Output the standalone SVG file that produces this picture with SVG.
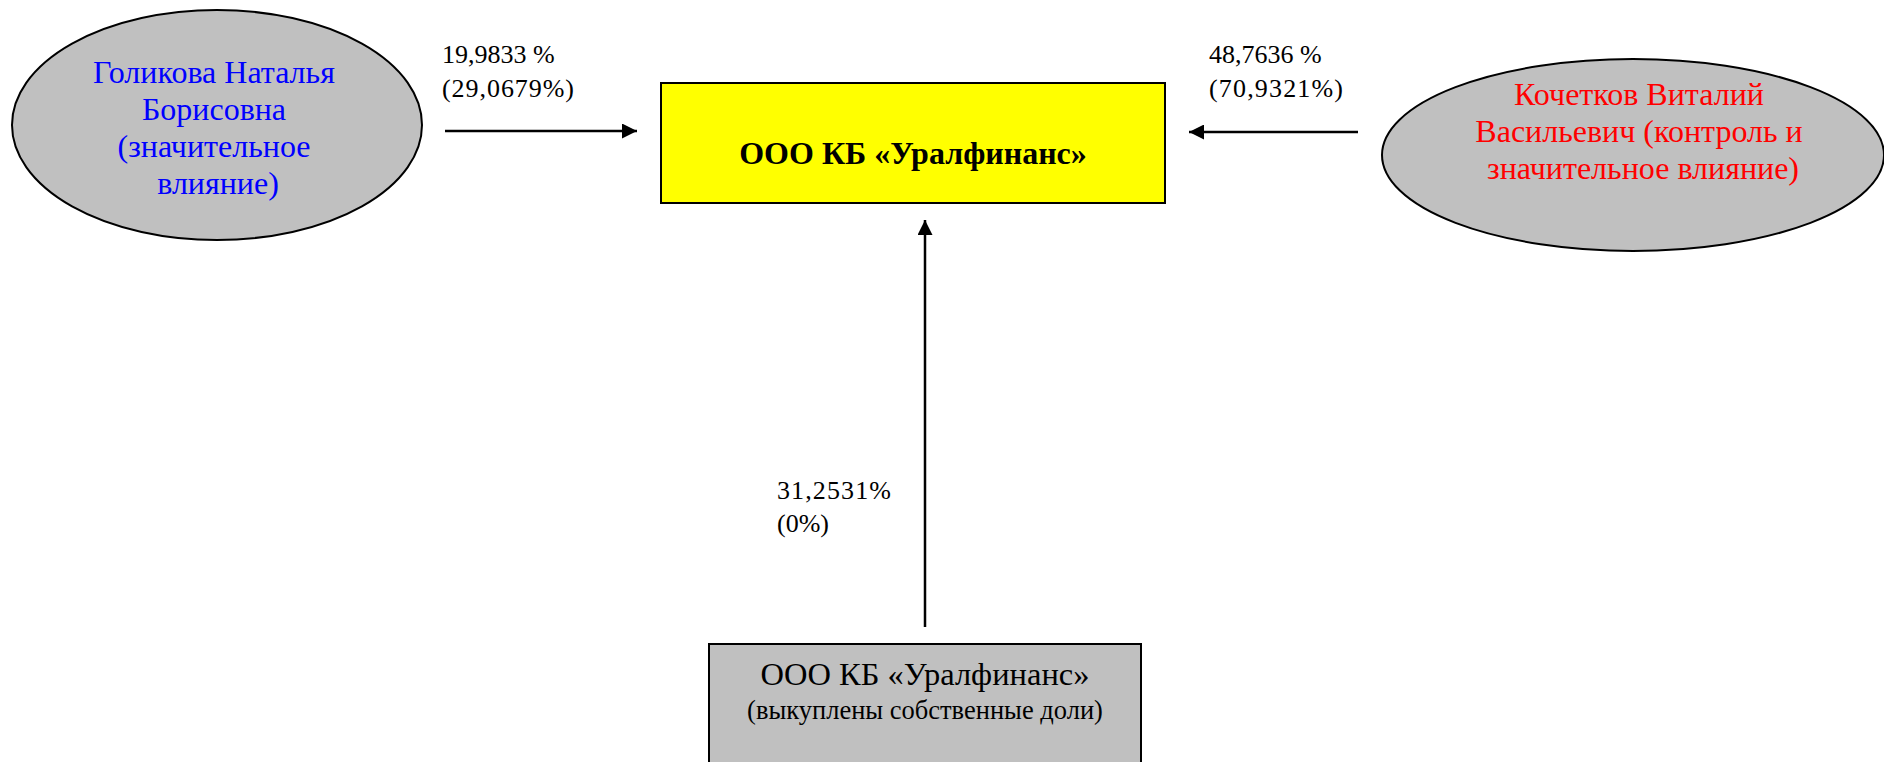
<svg xmlns="http://www.w3.org/2000/svg" width="1884" height="762" viewBox="0 0 1884 762">
<style>
.t{font-family:"Liberation Serif","Times New Roman",serif;}
.lbl{font-family:"Liberation Serif","Times New Roman",serif;font-size:26px;fill:#000;}
.shape{stroke:#000;stroke-width:2;}
.conn{stroke:#000;stroke-width:2.5;fill:none;}
</style>
<defs>
<marker id="ah" viewBox="0 0 10 10" refX="10" refY="5" markerWidth="6.5" markerHeight="6" markerUnits="strokeWidth" orient="auto">
<path d="M0,0 L10,5 L0,10 z" fill="#000"/>
</marker>
</defs>
<rect width="1884" height="762" fill="#fff"/>
<g id="connectors">
<line class="conn" x1="445" y1="131" x2="637" y2="131" marker-end="url(#ah)"/>
<line class="conn" x1="1358" y1="132" x2="1189" y2="132" marker-end="url(#ah)"/>
<line class="conn" x1="925" y1="627" x2="925" y2="220" marker-end="url(#ah)"/>
<text class="lbl" x="442" y="63">19,9833 %</text>
<text class="lbl" x="442" y="97" textLength="132" lengthAdjust="spacing">(29,0679%)</text>
<text class="lbl" x="1209" y="63">48,7636 %</text>
<text class="lbl" x="1209" y="97" textLength="134" lengthAdjust="spacing">(70,9321%)</text>
<text class="lbl" x="777" y="499" textLength="114" lengthAdjust="spacing">31,2531%</text>
<text class="lbl" x="777" y="532">(0%)</text>
</g>
<g id="golikova">
<ellipse class="shape" cx="217" cy="125" rx="205" ry="115" fill="#c0c0c0"/>
<text class="t" font-size="32" fill="#0000ff" text-anchor="middle">
<tspan x="218" y="83">Голикова Наталья</tspan>
<tspan x="218" y="120">Борисовна</tspan>
<tspan x="218" y="157">(значительное</tspan>
<tspan x="218" y="194">влияние)</tspan>
</text>
</g>
<g id="uralfinans">
<rect class="shape" x="661" y="83" width="504" height="120" fill="#ffff00"/>
<text class="t" font-size="32" font-weight="bold" text-anchor="middle" x="913" y="164">ООО КБ «Уралфинанс»</text>
</g>
<g id="kochetkov">
<ellipse class="shape" cx="1633" cy="155" rx="251" ry="96" fill="#c0c0c0"/>
<text class="t" font-size="32" fill="#ff0000" text-anchor="middle">
<tspan x="1643" y="105">Кочетков Виталий</tspan>
<tspan x="1643" y="142">Васильевич (контроль и</tspan>
<tspan x="1643" y="179">значительное влияние)</tspan>
</text>
</g>
<g id="own-shares">
<rect class="shape" x="709" y="644" width="432" height="130" fill="#c0c0c0"/>
<text class="t" font-size="32.5" text-anchor="middle" x="925" y="685">ООО КБ «Уралфинанс»</text>
<text class="t" font-size="26.5" text-anchor="middle" x="925" y="719">(выкуплены собственные доли)</text>
</g>
</svg>
